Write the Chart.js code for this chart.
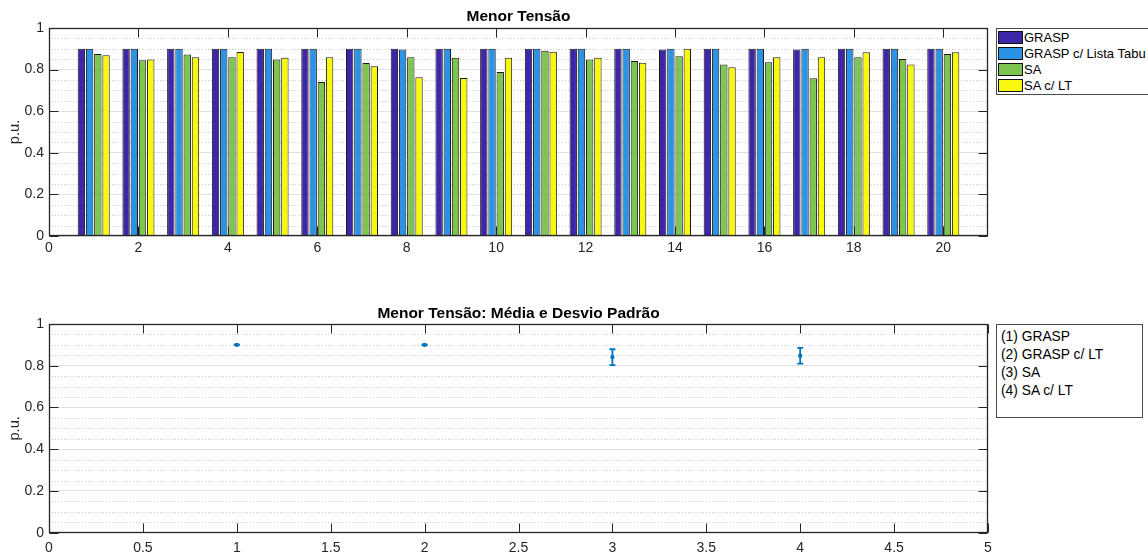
<!DOCTYPE html>
<html>
<head>
<meta charset="utf-8">
<script src="https://cdn.jsdelivr.net/npm/chart.js@4.4.1/dist/chart.umd.min.js"></script>
<style>
  html, body { margin: 0; padding: 0; background: #fff; width: 1148px; height: 554px; overflow: hidden;
    font-family: "Liberation Sans", Arial, Helvetica, sans-serif; }
  canvas { position: absolute; left: 0; }
  #topChart { top: 0; }
  #bottomChart { top: 277px; }
  .legendBox { position: absolute; border: 1px solid #4a4a4a; background: #fff; box-sizing: border-box; }
  .row { position: absolute; white-space: nowrap; color: #000; }
  .swatch { position: absolute; width: 25px; height: 13px; box-sizing: border-box; border: 1px solid #111; }
</style>
</head>
<body>
<canvas id="topChart" width="1148" height="277"></canvas>
<canvas id="bottomChart" width="1148" height="277"></canvas>
<div id="topLegend"></div>
<div id="bottomLegend"></div>
<script>
// ---- data ----
const runs = [1, 2, 3, 4, 5, 6, 7, 8, 9, 10, 11, 12, 13, 14, 15, 16, 17, 18, 19, 20];
const graspValues   = [0.900, 0.900, 0.900, 0.900, 0.900, 0.900, 0.900, 0.900, 0.900, 0.900,
                       0.900, 0.900, 0.900, 0.897, 0.900, 0.900, 0.897, 0.900, 0.900, 0.900];
const graspLtValues = [0.900, 0.900, 0.900, 0.900, 0.900, 0.900, 0.900, 0.897, 0.900, 0.900,
                       0.900, 0.900, 0.900, 0.900, 0.900, 0.900, 0.900, 0.900, 0.900, 0.900];
const saValues      = [0.875, 0.845, 0.873, 0.859, 0.848, 0.740, 0.832, 0.859, 0.857, 0.788,
                       0.891, 0.848, 0.841, 0.864, 0.824, 0.835, 0.758, 0.859, 0.851, 0.875];
const saLtValues    = [0.869, 0.848, 0.859, 0.885, 0.857, 0.859, 0.816, 0.763, 0.760, 0.857,
                       0.886, 0.857, 0.833, 0.900, 0.811, 0.859, 0.859, 0.883, 0.824, 0.883];
const seriesNames  = ['GRASP', 'GRASP c/ Lista Tabu', 'SA', 'SA c/ LT'];
const seriesColors = ['#3D26A8', '#2A93E6', '#7CC650', '#F8F80F'];
const topXTicks = [0, 2, 4, 6, 8, 10, 12, 14, 16, 18, 20];
const yTicks = [0, 0.2, 0.4, 0.6, 0.8, 1];

const methodIndex  = [1, 2, 3, 4];
const methodMeans  = [0.900, 0.900, 0.841, 0.848];
const methodStdDev = [0.001, 0.001, 0.038, 0.038];
const methodLabels = ['(1) GRASP', '(2) GRASP c/ LT', '(3) SA', '(4) SA c/ LT'];
const bottomXTicks = [0, 0.5, 1, 1.5, 2, 2.5, 3, 3.5, 4, 4.5, 5];

const topTitle = 'Menor Tensão';
const bottomTitle = 'Menor Tensão: Média e Desvio Padrão';
const yLabel = 'p.u.';

// ---- shared look ----
const FONT = '"Liberation Sans", Arial, Helvetica, sans-serif';
const AXIS_COLOR = '#262626';
const TICK_SIZE = 14;
const minorY = [];
for (let i = 1; i < 20; i++) if (i % 4 !== 0) minorY.push(i / 20);

// MATLAB-like axes: dotted minor grid, box outline, inward ticks, bold title
const matlabAxes = {
  id: 'matlabAxes',
  beforeDatasetsDraw(chart) {
    const { ctx, chartArea: a, scales: { y } } = chart;
    ctx.save();
    ctx.strokeStyle = '#c9c9c9';
    ctx.lineWidth = 1;
    ctx.setLineDash([1, 2]);
    for (const v of minorY) {
      const py = Math.round(y.getPixelForValue(v)) + 0.5;
      ctx.beginPath(); ctx.moveTo(a.left, py); ctx.lineTo(a.right, py); ctx.stroke();
    }
    ctx.restore();
  },
  afterDatasetsDraw(chart, args, opts) {
    const { ctx, chartArea: a, scales: { x, y } } = chart;
    const L = Math.round(a.left) + 0.5, R = Math.round(a.right) - 0.5;
    const T = Math.round(a.top) + 0.5, B = Math.round(a.bottom) - 0.5;
    const len = 9;
    ctx.save();
    ctx.strokeStyle = AXIS_COLOR;
    ctx.lineWidth = 1;
    ctx.beginPath();
    for (const t of x.ticks) {
      const px = Math.round(x.getPixelForValue(t.value)) + 0.5;
      ctx.moveTo(px, B); ctx.lineTo(px, B - len);
      ctx.moveTo(px, T); ctx.lineTo(px, T + len);
    }
    for (const t of y.ticks) {
      const py = Math.round(y.getPixelForValue(t.value)) + 0.5;
      ctx.moveTo(L, py); ctx.lineTo(L + len, py);
      ctx.moveTo(R, py); ctx.lineTo(R - len, py);
    }
    ctx.stroke();
    ctx.lineWidth = 1.3;
    ctx.strokeRect(L, T, R - L, B - T);
    // title
    ctx.fillStyle = '#000';
    ctx.font = 'bold 15.5px ' + FONT;
    ctx.textAlign = 'center';
    ctx.textBaseline = 'alphabetic';
    ctx.fillText(opts.text, (a.left + a.right) / 2, a.top - opts.gap);
    ctx.restore();
  }
};

// error bars for the mean / standard deviation plot
const errorBars = {
  id: 'errorBars',
  afterDatasetsDraw(chart, args, opts) {
    const { ctx, scales: { x, y } } = chart;
    ctx.save();
    ctx.strokeStyle = opts.color;
    ctx.lineWidth = 1.8;
    opts.centers.forEach((c, i) => {
      const px = x.getPixelForValue(c);
      const lo = y.getPixelForValue(opts.means[i] - opts.spreads[i]);
      const hi = y.getPixelForValue(opts.means[i] + opts.spreads[i]);
      ctx.beginPath();
      ctx.moveTo(px, lo); ctx.lineTo(px, hi);
      ctx.moveTo(px - 3, lo); ctx.lineTo(px + 3, lo);
      ctx.moveTo(px - 3, hi); ctx.lineTo(px + 3, hi);
      ctx.stroke();
    });
    ctx.restore();
  }
};

function yScale(plotLeft) {
  return {
    type: 'linear', min: 0, max: 1,
    afterBuildTicks: s => { s.ticks = yTicks.map(v => ({ value: v })); },
    afterFit: s => { s.width = plotLeft; },
    ticks: { color: AXIS_COLOR, font: { family: FONT, size: TICK_SIZE }, padding: 5,
             callback: v => String(+v.toFixed(2)) },
    grid: { color: '#e1e1e1', lineWidth: 1, drawTicks: false },
    border: { display: false },
    title: { display: true, text: yLabel, color: AXIS_COLOR, font: { family: FONT, size: 14.7 },
             padding: { top: 6, bottom: 0 } }
  };
}

function xScale(min, max, tickValues, height, pad) {
  return {
    type: 'linear', min, max, offset: false,
    afterBuildTicks: s => { s.ticks = tickValues.map(v => ({ value: v })); },
    afterFit: s => { s.height = height; },
    ticks: { color: AXIS_COLOR, font: { family: FONT, size: TICK_SIZE }, padding: pad, maxRotation: 0,
             autoSkip: false, callback: v => String(v) },
    grid: { display: false, drawTicks: false, offset: false },
    border: { display: false }
  };
}

Chart.defaults.font.family = FONT;

// ---- top: grouped bars per run ----
const barSeries = [graspValues, graspLtValues, saValues, saLtValues];
new Chart(document.getElementById('topChart'), {
  type: 'bar',
  data: {
    datasets: barSeries.map((vals, k) => ({
      label: seriesNames[k],
      data: runs.map((r, i) => ({ x: r, y: vals[i] })),
      backgroundColor: seriesColors[k],
      borderColor: '#1a1a1a',
      borderWidth: 1,
      categoryPercentage: 0.735,
      barPercentage: 0.9
    }))
  },
  options: {
    responsive: false, animation: false, devicePixelRatio: 1,
    layout: { padding: { top: 28, left: 0, right: 160, bottom: 0 } },
    scales: { x: xScale(0, 21, topXTicks, 277 - 236, 4), y: yScale(49) },
    plugins: { legend: { display: false }, tooltip: { enabled: false },
               matlabAxes: { text: topTitle, gap: 7.3 } }
  },
  plugins: [matlabAxes]
});

// ---- bottom: mean and standard deviation per method ----
new Chart(document.getElementById('bottomChart'), {
  type: 'scatter',
  data: {
    datasets: [{
      data: methodIndex.map((m, i) => ({ x: m, y: methodMeans[i] })),
      backgroundColor: '#0072BD', borderColor: '#0072BD',
      pointRadius: 2, pointStyle: 'rect', showLine: false
    }]
  },
  options: {
    responsive: false, animation: false, devicePixelRatio: 1,
    layout: { padding: { top: 47, left: 0, right: 160, bottom: 0 } },
    scales: { x: xScale(0, 5, bottomXTicks, 277 - 255.7, 7), y: yScale(49) },
    plugins: { legend: { display: false }, tooltip: { enabled: false },
               matlabAxes: { text: bottomTitle, gap: 5.7 },
               errorBars: { centers: methodIndex, means: methodMeans, spreads: methodStdDev, color: '#0072BD' } }
  },
  plugins: [matlabAxes, errorBars]
});

// ---- legends ----
(function () {
  const top = document.getElementById('topLegend');
  top.className = 'legendBox';
  Object.assign(top.style, { left: '996px', top: '28px', width: '170px', height: '67px' });
  seriesNames.forEach((name, k) => {
    const sw = document.createElement('div');
    sw.className = 'swatch';
    Object.assign(sw.style, { left: '1px', top: (2 + 16 * k) + 'px', background: seriesColors[k] });
    top.appendChild(sw);
    const tx = document.createElement('div');
    tx.className = 'row';
    tx.textContent = name;
    Object.assign(tx.style, { left: '27px', top: (0.5 + 16 * k) + 'px', fontSize: '13px', lineHeight: '16px' });
    top.appendChild(tx);
  });

  const bot = document.getElementById('bottomLegend');
  bot.className = 'legendBox';
  Object.assign(bot.style, { left: '996px', top: '324px', width: '147px', height: '94px' });
  methodLabels.forEach((name, k) => {
    const tx = document.createElement('div');
    tx.className = 'row';
    tx.textContent = name;
    Object.assign(tx.style, { left: '4px', top: (3 + 18 * k) + 'px', fontSize: '13.8px', lineHeight: '18px' });
    bot.appendChild(tx);
  });
})();
</script>
</body>
</html>
